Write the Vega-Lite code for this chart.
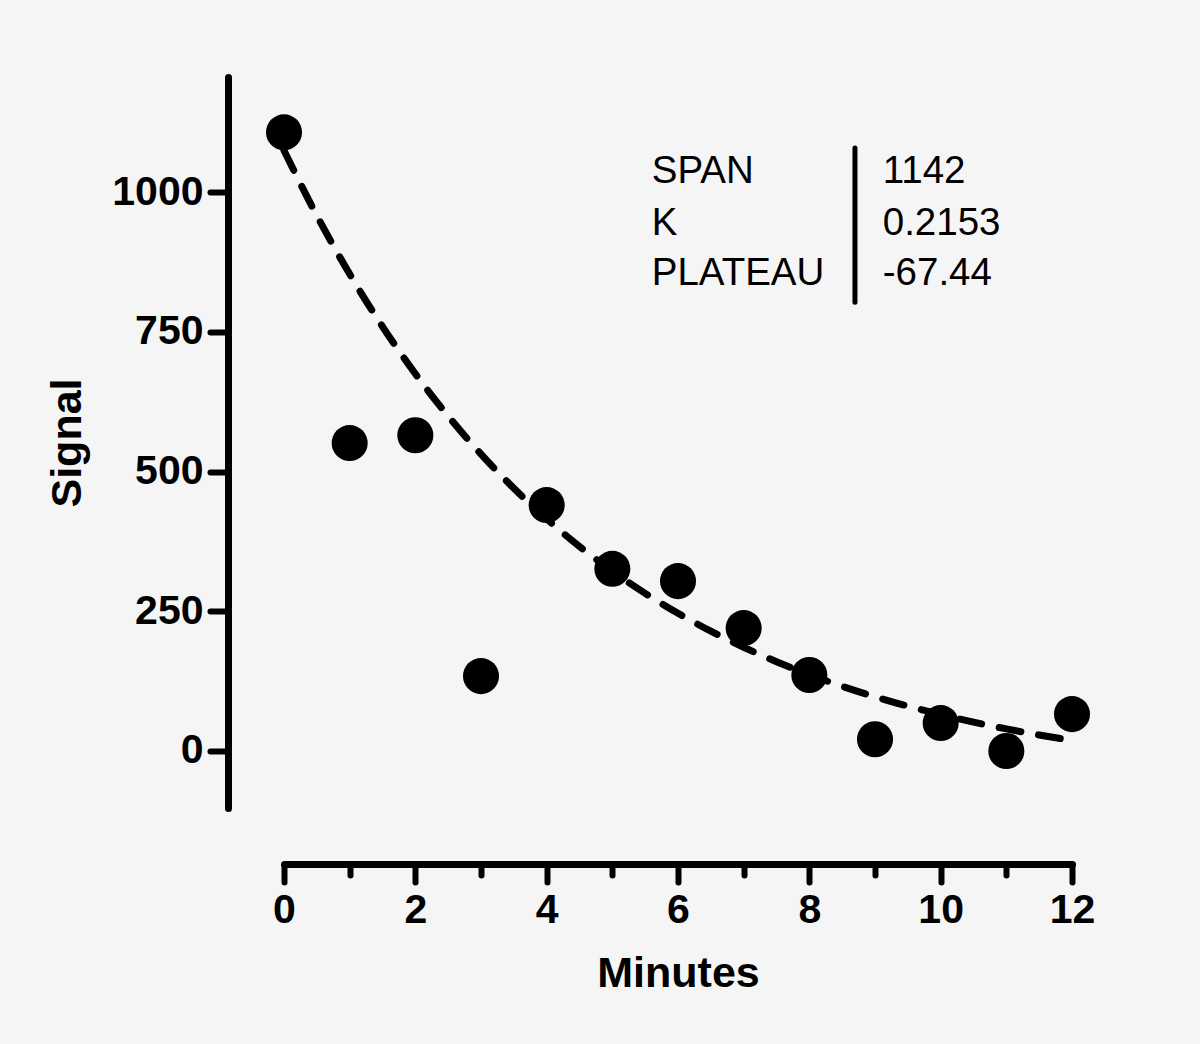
{
  "$schema": "https://vega.github.io/schema/vega-lite/v6.json",
  "autosize": "none",
  "width": 788,
  "height": 731,
  "padding": {"left": 284, "top": 77, "right": 128, "bottom": 236},
  "background": "#f5f5f5",
  "config": {
    "view": {"stroke": null},
    "font": "Liberation Sans",
    "axis": {
      "domainColor": "black",
      "domainWidth": 7,
      "domainCap": "round",
      "tickColor": "black",
      "tickWidth": 6,
      "tickCap": "round",
      "grid": false,
      "labelFont": "Liberation Sans",
      "labelFontWeight": "bold",
      "labelFontSize": 41,
      "labelColor": "black",
      "titleFont": "Liberation Sans",
      "titleFontWeight": "bold",
      "titleFontSize": 43,
      "titleColor": "black"
    }
  },
  "datasets": {
    "obs": [
      {"minutes": 0, "signal": 1107},
      {"minutes": 1, "signal": 551},
      {"minutes": 2, "signal": 565},
      {"minutes": 3, "signal": 134},
      {"minutes": 4, "signal": 440},
      {"minutes": 5, "signal": 326},
      {"minutes": 6, "signal": 304},
      {"minutes": 7, "signal": 220},
      {"minutes": 8, "signal": 136},
      {"minutes": 9, "signal": 21},
      {"minutes": 10, "signal": 50},
      {"minutes": 11, "signal": 0},
      {"minutes": 12, "signal": 66}
    ],
    "fit": [
      {"minutes": 0, "signal": 1074.6},
      {"minutes": 0.5, "signal": 958.0},
      {"minutes": 1, "signal": 853.4},
      {"minutes": 1.5, "signal": 759.4},
      {"minutes": 2, "signal": 675.0},
      {"minutes": 2.5, "signal": 599.3},
      {"minutes": 3, "signal": 531.2},
      {"minutes": 3.5, "signal": 470.1},
      {"minutes": 4, "signal": 415.2},
      {"minutes": 4.5, "signal": 366.0},
      {"minutes": 5, "signal": 321.7},
      {"minutes": 5.5, "signal": 282.0},
      {"minutes": 6, "signal": 246.4},
      {"minutes": 6.5, "signal": 214.3},
      {"minutes": 7, "signal": 185.6},
      {"minutes": 7.5, "signal": 159.8},
      {"minutes": 8, "signal": 136.6},
      {"minutes": 8.5, "signal": 115.8},
      {"minutes": 9, "signal": 97.1},
      {"minutes": 9.5, "signal": 80.3},
      {"minutes": 10, "signal": 65.2},
      {"minutes": 10.5, "signal": 51.6},
      {"minutes": 11, "signal": 39.5},
      {"minutes": 11.5, "signal": 28.6},
      {"minutes": 12, "signal": 18.8}
    ],
    "params": [
      {"name": "SPAN", "value": "1142", "minutes": 5.6, "signal": 1016},
      {"name": "K", "value": "0.2153", "minutes": 5.6, "signal": 923},
      {"name": "PLATEAU", "value": "-67.44", "minutes": 5.6, "signal": 834}
    ]
  },
  "layer": [
    {
      "data": {"name": "fit"},
      "mark": {"type": "line", "color": "black", "strokeWidth": 7, "strokeDash": [22, 18], "strokeCap": "round", "interpolate": "monotone", "clip": false},
      "encoding": {
        "x": {
          "field": "minutes", "type": "quantitative",
          "scale": {"domain": [0, 12], "nice": false, "zero": false},
          "axis": {
            "title": "Minutes",
            "format": "d",
            "values": [0, 1, 2, 3, 4, 5, 6, 7, 8, 9, 10, 11, 12],
            "labelExpr": "datum.value % 2 === 0 ? datum.label : ''",
            "tickSize": {"condition": {"test": "datum.value % 2 === 0", "value": 18}, "value": 11},
            "offset": 56,
            "labelPadding": 8,
            "titlePadding": 22,
            "labelFlush": false
          }
        },
        "y": {
          "field": "signal", "type": "quantitative",
          "scale": {"domain": [-102, 1206], "nice": false, "zero": false},
          "axis": {
            "title": "Signal",
            "format": "d",
            "values": [0, 250, 500, 750, 1000],
            "tickSize": 18,
            "offset": 56,
            "labelPadding": 7,
            "titlePadding": 22
          }
        }
      }
    },
    {
      "data": {"name": "obs"},
      "mark": {"type": "point", "shape": "circle", "filled": true, "color": "black", "opacity": 1, "size": 1300, "clip": false},
      "encoding": {
        "x": {"field": "minutes", "type": "quantitative"},
        "y": {"field": "signal", "type": "quantitative"}
      }
    },
    {
      "data": {"name": "params"},
      "mark": {"type": "text", "align": "left", "baseline": "alphabetic", "fontSize": 38.5, "font": "Liberation Sans", "color": "black"},
      "encoding": {
        "x": {"field": "minutes", "type": "quantitative"},
        "y": {"field": "signal", "type": "quantitative"},
        "text": {"field": "name"}
      }
    },
    {
      "data": {"name": "params"},
      "mark": {"type": "text", "align": "left", "baseline": "alphabetic", "fontSize": 38.5, "font": "Liberation Sans", "color": "black", "dx": 231},
      "encoding": {
        "x": {"field": "minutes", "type": "quantitative"},
        "y": {"field": "signal", "type": "quantitative"},
        "text": {"field": "value"}
      }
    },
    {
      "data": {"values": [{"minutes": 8.695, "top": 1079, "bottom": 803}]},
      "mark": {"type": "rule", "color": "black", "strokeWidth": 5, "strokeCap": "round"},
      "encoding": {
        "x": {"field": "minutes", "type": "quantitative"},
        "y": {"field": "top", "type": "quantitative"},
        "y2": {"field": "bottom"}
      }
    }
  ]
}
